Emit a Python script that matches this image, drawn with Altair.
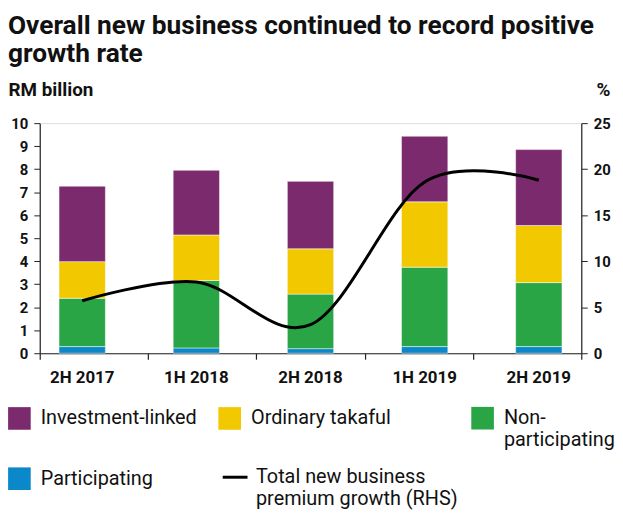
import altair as alt
import pandas as pd

periods = ["2H 2017", "1H 2018", "2H 2018", "1H 2019", "2H 2019"]

# segment values (RM billion), bottom to top
participating = [0.29, 0.23, 0.20, 0.29, 0.29]
non_participating = [2.10, 2.93, 2.37, 3.45, 2.78]
ordinary_takaful = [1.59, 1.98, 1.97, 2.84, 2.48]
investment_linked = [3.28, 2.81, 2.93, 2.85, 3.30]

# total new business premium growth (%, RHS)
growth = [5.7, 7.75, 3.1, 18.6, 18.8]

LINE = "Total new business premium growth (RHS)"
bar_names = ["Investment-linked", "Ordinary takaful", "Non-participating", "Participating"]
bar_colors = ["#7b2a6d", "#f2c800", "#29a546", "#0a88c9"]

series_values = {
    "Participating": participating,
    "Non-participating": non_participating,
    "Ordinary takaful": ordinary_takaful,
    "Investment-linked": investment_linked,
}
stack_rank = {"Participating": 0, "Non-participating": 1, "Ordinary takaful": 2, "Investment-linked": 3}

rows = []
for name, vals in series_values.items():
    for p, v in zip(periods, vals):
        rows.append({"period": p, "series": name, "value": v, "rank": stack_rank[name]})
bars_df = pd.DataFrame(rows)
line_df = pd.DataFrame({"period": periods, "growth": growth, "series": [LINE] * len(periods)})
tick_df = pd.DataFrame({"period": periods})
np_df = pd.DataFrame({"period": periods, "series": [bar_names[2]] * len(periods)})

FONT = "Roboto"
INK = "#111111"
AX = "#222222"

x_scale = alt.Scale(paddingInner=0.594, paddingOuter=0.169)

NB = "\u00a0"

common_legend = dict(
    title=None,
    orient="none",
    padding=0,
    labelFont=FONT,
    labelFontSize=20,
    labelColor=INK,
    labelLimit=400,
)

bar_legend = alt.Legend(
    legendX=-32,
    legendY=286,
    direction="horizontal",
    columns=2,
    columnPadding=21,
    rowPadding=17,
    values=[bar_names[0], bar_names[1], bar_names[3]],
    symbolType="square",
    symbolSize=520,
    symbolStrokeWidth=0,
    symbolOpacity=1,
    labelOffset=10,
    labelExpr="[datum.label, '" + NB + "']",
    **common_legend,
)

np_legend = alt.Legend(
    legendX=435,
    legendY=286,
    symbolType="square",
    symbolSize=520,
    symbolStrokeWidth=0,
    symbolOpacity=1,
    labelOffset=10,
    labelExpr="['Non-', 'participating']",
    **common_legend,
)

line_legend = alt.Legend(
    legendX=183,
    legendY=343,
    symbolType="stroke",
    symbolSize=625,
    symbolStrokeWidth=3,
    symbolStrokeColor="#000000",
    labelOffset=7,
    labelExpr="['Total new business', 'premium growth (RHS)']",
    **common_legend,
)

x_axis = alt.Axis(
    orient="bottom", title=None, labelAngle=0, ticks=False, tickSize=0,
    labelPadding=17, labelFont=FONT, labelFontSize=17, labelFontWeight="bold",
    labelColor=INK, domain=True, domainColor=AX, domainWidth=1.2,
)

bars = alt.Chart(bars_df).mark_bar(stroke="#ffffff", strokeWidth=0.5).encode(
    x=alt.X("period:N", sort=periods, scale=x_scale, axis=x_axis),
    y=alt.Y(
        "value:Q",
        stack="zero",
        scale=alt.Scale(domain=[0, 10], nice=False),
        axis=alt.Axis(
            orient="left", values=list(range(0, 11)), grid=False,
            title="RM billion", titleAngle=0, titleX=-32, titleY=-28,
            titleAlign="left", titleBaseline="alphabetic", titleFont=FONT,
            titleFontSize=19, titleFontWeight="bold", titleColor=INK,
            labelFont=FONT, labelFontSize=15, labelFontWeight="bold", labelColor=INK,
            labelPadding=6, tickSize=6, tickColor=AX, domainColor=AX, domainWidth=1.2,
        ),
    ),
    color=alt.Color(
        "series:N",
        sort=bar_names,
        scale=alt.Scale(domain=bar_names, range=bar_colors),
        legend=bar_legend,
    ),
    order=alt.Order("rank:Q"),
)

# invisible layer that only carries the "Non-participating" legend key
np_key = alt.Chart(np_df).mark_bar(opacity=0).encode(
    x=alt.X("period:N", sort=periods, scale=x_scale, axis=x_axis),
    fill=alt.Fill(
        "series:N",
        scale=alt.Scale(domain=[bar_names[2]], range=[bar_colors[2]]),
        legend=np_legend,
    ),
)

line = alt.Chart(line_df).mark_line(interpolate="cardinal", strokeWidth=3).encode(
    x=alt.X("period:N", sort=periods, scale=x_scale, axis=x_axis),
    y=alt.Y(
        "growth:Q",
        scale=alt.Scale(domain=[0, 25], nice=False),
        axis=alt.Axis(
            orient="right", values=[0, 5, 10, 15, 20, 25], grid=False,
            title="%", titleAngle=0, titleX=29, titleY=-28,
            titleAlign="right", titleBaseline="alphabetic", titleFont=FONT,
            titleFontSize=19, titleFontWeight="bold", titleColor=INK,
            labelFont=FONT, labelFontSize=15, labelFontWeight="bold", labelColor=INK,
            labelPadding=6, tickSize=6, tickColor=AX, domainColor=AX, domainWidth=1.2,
        ),
    ),
    stroke=alt.Stroke("series:N", scale=alt.Scale(domain=[LINE], range=["#000000"]), legend=line_legend),
)

inner = alt.layer(bars, np_key, line).resolve_scale(y="independent")

ticks = alt.Chart(tick_df).mark_bar(opacity=0).encode(
    x=alt.X(
        "period:N",
        sort=periods,
        scale=alt.Scale(paddingInner=0, paddingOuter=0),
        axis=alt.Axis(
            orient="bottom", title=None, labels=False, domain=False,
            ticks=True, tickBand="extent", tickSize=6, tickColor=AX, tickWidth=1.2,
        ),
    ),
)

chart = (
    alt.layer(inner, ticks)
    .resolve_scale(x="independent")
    .properties(
        width=546,
        height=232,
        padding={"top": 3, "left": 0, "right": 0, "bottom": 0},
        title=alt.TitleParams(
            text=["Overall new business continued to record positive", "growth rate"],
            anchor="start", frame="bounds", font=FONT, fontSize=26.5, fontWeight="bold",
            color=INK, lineHeight=28, offset=13,
        ),
    )
    .configure_view(stroke=None)
    .configure(font=FONT)
)

chart.save("out.html", embed_options={"renderer": "svg", "actions": False})
